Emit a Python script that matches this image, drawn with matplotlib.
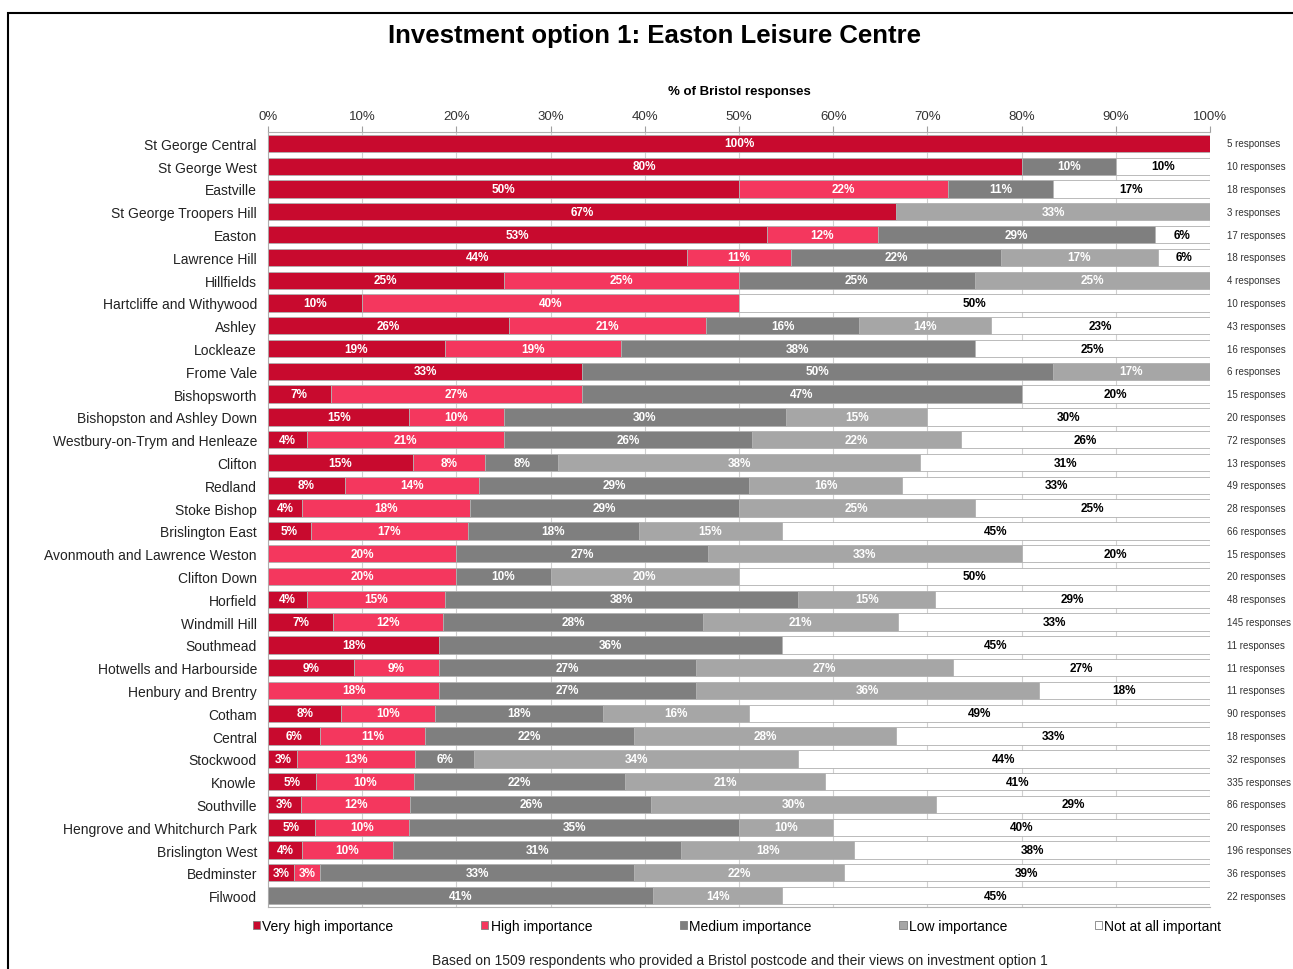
import numpy as np
import matplotlib
matplotlib.use("Agg")
import matplotlib.pyplot as plt
from matplotlib.patches import Patch, Rectangle
from matplotlib.transforms import blended_transform_factory

plt.rcParams['font.family'] = ['Liberation Sans', 'DejaVu Sans']

# Wards (top to bottom)
wards = ['St George Central', 'St George West', 'Eastville', 'St George Troopers Hill',
         'Easton', 'Lawrence Hill', 'Hillfields', 'Hartcliffe and Withywood', 'Ashley',
         'Lockleaze', 'Frome Vale', 'Bishopsworth', 'Bishopston and Ashley Down',
         'Westbury-on-Trym and Henleaze', 'Clifton', 'Redland', 'Stoke Bishop',
         'Brislington East', 'Avonmouth and Lawrence Weston', 'Clifton Down', 'Horfield',
         'Windmill Hill', 'Southmead', 'Hotwells and Harbourside', 'Henbury and Brentry',
         'Cotham', 'Central', 'Stockwood', 'Knowle', 'Southville',
         'Hengrove and Whitchurch Park', 'Brislington West', 'Bedminster', 'Filwood']

# number of responses per answer (read from the % labels and response totals)
very_high = [5, 8, 9, 2, 9, 8, 1, 1, 11, 3, 2, 1, 3, 3, 2, 4, 1, 3, 0, 0, 2, 10, 2, 1, 0, 7, 1, 1, 17, 3, 1, 7, 1, 0]
high      = [0, 0, 4, 0, 2, 2, 1, 4, 9, 3, 0, 4, 2, 15, 1, 7, 5, 11, 3, 4, 7, 17, 0, 1, 2, 9, 2, 4, 35, 10, 2, 19, 1, 0]
medium    = [0, 1, 2, 0, 5, 4, 1, 0, 7, 6, 3, 7, 6, 19, 1, 14, 8, 12, 4, 2, 18, 40, 4, 3, 3, 16, 4, 2, 75, 22, 7, 60, 12, 9]
low       = [0, 0, 0, 1, 0, 3, 1, 0, 6, 0, 1, 0, 3, 16, 5, 8, 7, 10, 5, 4, 7, 30, 0, 3, 4, 14, 5, 11, 71, 26, 2, 36, 8, 3]
not_imp   = [0, 1, 3, 0, 1, 1, 0, 5, 10, 4, 0, 3, 6, 19, 4, 16, 7, 30, 3, 10, 14, 48, 5, 3, 2, 44, 6, 14, 137, 25, 8, 74, 14, 10]

categories = ['Very high importance', 'High importance', 'Medium importance',
              'Low importance', 'Not at all important']
colors = ['#C80A2E', '#F4375E', '#7F7F7F', '#A6A6A6', '#FFFFFF']

counts = np.array([very_high, high, medium, low, not_imp], dtype=float).T
responses = counts.sum(axis=1)
pct = counts / responses[:, None] * 100

fig = plt.figure(figsize=(12.93, 9.7), dpi=100)
W, H = 1293, 970
ax = fig.add_axes([268 / W, 1 - 908 / H, 942 / W, 775 / H])

y = np.arange(len(wards))
left = np.zeros(len(wards))
for k in range(5):
    ax.barh(y, pct[:, k], left=left, height=0.76, color=colors[k],
            edgecolor='#b0b0b0', linewidth=0.6, zorder=3, label=categories[k])
    for i in range(len(wards)):
        p = pct[i, k]
        if p <= 0:
            continue
        txt = '%d%%' % int(np.floor(p + 0.5))
        if k == 4:
            ax.text(left[i] + p / 2, y[i], txt, ha='center', va='center',
                    fontsize=8.5, fontweight='bold', color='black', zorder=4)
        else:
            ax.text(left[i] + p / 2, y[i], txt, ha='center', va='center',
                    fontsize=8.5, fontweight='bold', color='white', zorder=4)
    left += pct[:, k]

ax.set_xlim(0, 100)
ax.set_ylim(len(wards) - 0.5, -0.5)
ax.xaxis.tick_top()
ax.set_xticks(np.arange(0, 101, 10))
ax.set_xticklabels(['%d%%' % v for v in range(0, 101, 10)], fontsize=9.5, color='#333333')
ax.tick_params(axis='x', length=4, color='#a0a0a0', pad=3.5)
ax.set_yticks(y)
ax.set_yticklabels(wards, fontsize=10, color='#222222')
ax.tick_params(axis='y', length=0, pad=8)
ax.xaxis.grid(True, color='#d0d0d0', linewidth=0.8, zorder=0)
ax.set_axisbelow(True)
ax.spines['right'].set_visible(False)
for s in ['top', 'bottom', 'left']:
    ax.spines[s].set_color('#b0b0b0')

ax.set_xlabel('% of Bristol responses', fontsize=9.5, fontweight='bold', labelpad=11.5)
ax.xaxis.set_label_position('top')

trans = blended_transform_factory(ax.transAxes, ax.transData)
for i, n in enumerate(responses):
    ax.text(1.018, y[i], '%d responses' % n, transform=trans, ha='left', va='center',
            fontsize=7, color='#333333')

fig.text(655 / W, 1 - 36 / H, 'Investment option 1: Easton Leisure Centre',
         ha='center', va='center', fontsize=18.5, fontweight='bold')

handles = [Patch(facecolor=c, edgecolor='#808080', linewidth=0.6) for c in colors]
fig.legend(handles, categories, loc='center', bbox_to_anchor=(737 / W, 1 - 927 / H),
           ncol=5, frameon=False, fontsize=10, handlelength=0.55, handleheight=0.55,
           handletextpad=0.15, columnspacing=6.3)

fig.text(740 / W, 1 - 961 / H,
         'Based on 1509 respondents who provided a Bristol postcode and their views on investment option 1',
         ha='center', va='center', fontsize=10, color='#222222')

fig.patches.append(Rectangle((8 / W, -0.05), 1.1, 1 - 14 / H + 0.05, transform=fig.transFigure,
                             fill=False, edgecolor='black', linewidth=1.5))

fig.savefig('out.png', dpi=100)
